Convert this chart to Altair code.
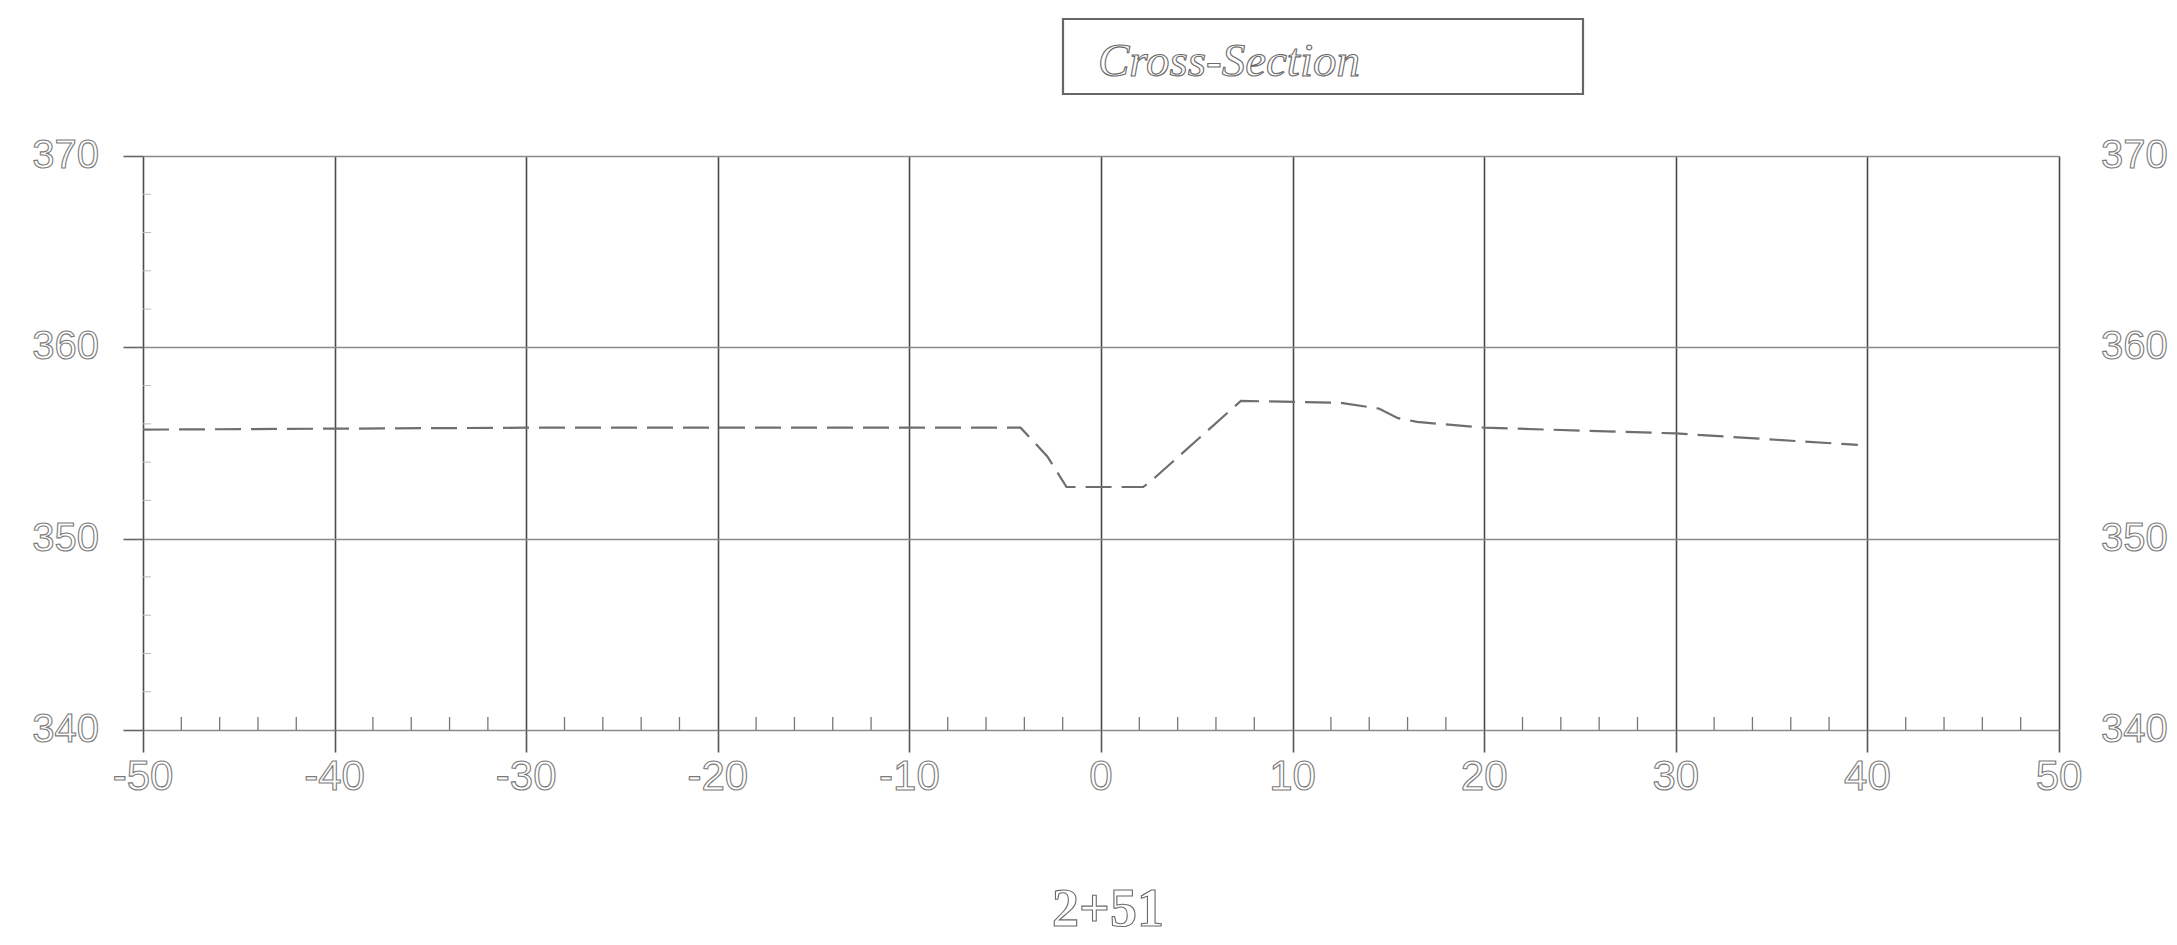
import altair as alt
import pandas as pd

# ---- data ----
offset = [-50, -40, -30, -20, -10, -4.2, -2.8, -1.8, 2.2, 2.6, 7.3, 12.5, 14.5, 15.5, 16.5, 20, 30, 39.5]
elevation = [355.7, 355.75, 355.8, 355.8, 355.8, 355.8, 354.3, 352.7, 352.7, 353.0, 357.2, 357.1, 356.8, 356.3, 356.1, 355.8, 355.5, 354.9]

x_ticks = [-50, -40, -30, -20, -10, 0, 10, 20, 30, 40, 50]
y_ticks = [340, 350, 360, 370]
x_minor = [v for v in range(-48, 50, 2) if v % 10 != 0]
y_minor = [v for v in range(342, 370, 2) if v % 10 != 0]
title_text = ["Cross-Section"]
station_text = ["2+51"]

W, H = 1916, 574
XD = [-50, 50]
YD = [340, 370]

line_df = pd.DataFrame({"offset": offset, "elev": elevation})
xt_df = pd.DataFrame({"v": x_ticks, "lab": [str(v) for v in x_ticks]})
yt_df = pd.DataFrame({"v": y_ticks, "lab": [str(v) for v in y_ticks]})
xm_df = pd.DataFrame({"v": x_minor})
ym_df = pd.DataFrame({"v": y_minor})

xs = alt.Scale(domain=XD, nice=False, zero=False)
ys = alt.Scale(domain=YD, nice=False, zero=False)

hollow = dict(fill="white", stroke="#7a7a7a", strokeWidth=1.1)

base_grid = alt.Chart(line_df).mark_point(opacity=0).encode(
    x=alt.X("offset:Q", scale=xs,
            axis=alt.Axis(values=x_ticks, grid=True, gridColor="#4a4a4a", gridWidth=1.6,
                          labels=False, title=None, domain=False,
                          tickSize=22, tickColor="#555", tickWidth=1.6)),
    y=alt.Y("elev:Q", scale=ys,
            axis=alt.Axis(values=y_ticks, grid=True, gridColor="#8a8a8a", gridWidth=1.4,
                          labels=False, title=None, domain=False,
                          tickSize=20, tickColor="#666", tickWidth=1.6)),
)

xminor = alt.Chart(xm_df).mark_rule(color="#777", strokeWidth=1.3).encode(
    x=alt.X("v:Q", scale=xs), y=alt.value(H), y2=alt.value(H - 13)
)
yminor = alt.Chart(ym_df).mark_rule(color="#bbb", strokeWidth=1).encode(
    y=alt.Y("v:Q", scale=ys), x=alt.value(0), x2=alt.value(8)
)

profile = alt.Chart(line_df).mark_line(
    color="#6e6e6e", strokeWidth=2.2, strokeDash=[26, 10]
).encode(
    x=alt.X("offset:Q", scale=xs),
    y=alt.Y("elev:Q", scale=ys),
)

xlab = alt.Chart(xt_df).mark_text(
    font="Liberation Sans", fontSize=42, baseline="alphabetic", align="center", **hollow
).encode(x=alt.X("v:Q", scale=xs), y=alt.value(H + 60), text="lab:N")

ylab_l = alt.Chart(yt_df).mark_text(
    font="Liberation Sans", fontSize=40, baseline="middle", align="right", **hollow
).encode(y=alt.Y("v:Q", scale=ys), x=alt.value(-44), text="lab:N")

ylab_r = alt.Chart(yt_df).mark_text(
    font="Liberation Sans", fontSize=40, baseline="middle", align="left", **hollow
).encode(y=alt.Y("v:Q", scale=ys), x=alt.value(W + 42), text="lab:N")

tdf = pd.DataFrame({"t": title_text})
title_box = alt.Chart(tdf).mark_rect(fill="white", stroke="#666", strokeWidth=2.2).encode(
    x=alt.value(920), x2=alt.value(1440), y=alt.value(-137), y2=alt.value(-62)
)
title_txt = alt.Chart(tdf).mark_text(
    font="Liberation Serif", fontStyle="italic", fontSize=47, align="left",
    baseline="alphabetic", fill="white", stroke="#6a6a6a", strokeWidth=1.1
).encode(x=alt.value(955), y=alt.value(-80), text="t:N")

sdf = pd.DataFrame({"t": station_text})
station_txt = alt.Chart(sdf).mark_text(
    font="Liberation Serif", fontWeight="bold", fontSize=54, align="center",
    baseline="alphabetic", fill="white", stroke="#6a6a6a", strokeWidth=1.1
).encode(x=alt.value(965), y=alt.value(H + 196), text="t:N")

chart = alt.layer(
    base_grid, xminor, yminor, profile, xlab, ylab_l, ylab_r, title_box, title_txt, station_txt
).properties(
    width=W, height=H,
    autosize=alt.AutoSizeParams(type="none"),
    padding={"left": 135, "top": 148, "right": 110, "bottom": 207},
).configure_view(stroke="#555", strokeWidth=2.4).configure(background="white")

chart.save("out.html", embed_options={"renderer": "svg", "actions": False})
